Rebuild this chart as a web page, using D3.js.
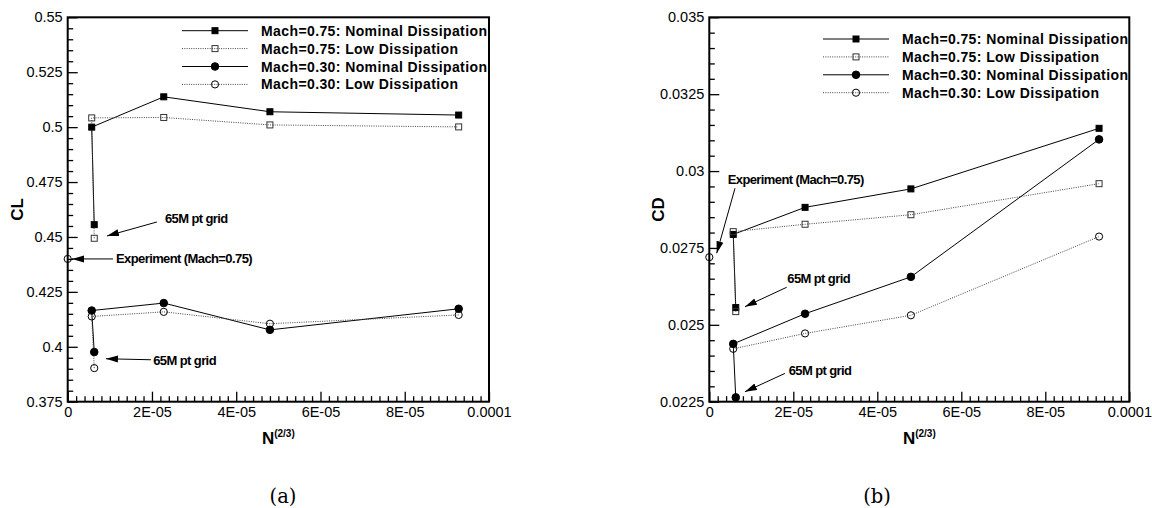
<!DOCTYPE html>
<html>
<head>
<meta charset="utf-8">
<script src="https://cdn.jsdelivr.net/npm/d3@7"></script>
<style>
  body { margin: 0; background: #fff; }
  svg { display: block; }
  text { font-family: "Liberation Sans", Arial, Helvetica, sans-serif; fill: #000; }
  .tick text { font-size: 14.5px; }
  .legend text { font-size: 14px; font-weight: bold; letter-spacing: 0.4px; }
  .ann { font-size: 13px; font-weight: bold; letter-spacing: -0.6px; }
  .title { font-size: 17px; font-weight: bold; }
  .caption { font-family: "DejaVu Serif", "Liberation Serif", serif; font-size: 19.5px; }
</style>
</head>
<body>
<svg width="1152" height="508"></svg>
<script>
// grid sizes N^(2/3); first entry is the 65M point grid
const gridX = [6.3e-6, 5.7e-6, 2.28e-5, 4.8e-5, 9.28e-5];

const seriesNames = [
  "Mach=0.75: Nominal Dissipation",
  "Mach=0.75: Low Dissipation",
  "Mach=0.30: Nominal Dissipation",
  "Mach=0.30: Low Dissipation"
];

// lift coefficient
const clM75Nominal = [0.4556, 0.5, 0.5138, 0.507, 0.5055];
const clM75Low     = [0.4494, 0.5042, 0.5044, 0.501, 0.5001];
const clM30Nominal = [0.3976, 0.4165, 0.4199, 0.4077, 0.4173];
const clM30Low     = [0.3903, 0.4138, 0.4159, 0.4105, 0.4145];
const clExperiment = 0.44;

// drag coefficient
const cdM75Nominal = [0.02556, 0.02794, 0.02882, 0.02942, 0.03139];
const cdM75Low     = [0.02543, 0.02803, 0.02827, 0.02858, 0.02959];
const cdM30Nominal = [0.02264, 0.02438, 0.02536, 0.02656, 0.03103];
const cdM30Low     = [null, 0.02422, 0.02472, 0.02531, 0.02787];
const cdExperiment = 0.0272;

const xTicks = [0, 2e-5, 4e-5, 6e-5, 8e-5, 1e-4];
const xTickLabels = ["0", "2E-05", "4E-05", "6E-05", "8E-05", "0.0001"];
const clTicks = [0.375, 0.4, 0.425, 0.45, 0.475, 0.5, 0.525, 0.55];
const clTickLabels = ["0.375", "0.4", "0.425", "0.45", "0.475", "0.5", "0.525", "0.55"];
const cdTicks = [0.0225, 0.025, 0.0275, 0.03, 0.0325, 0.035];
const cdTickLabels = ["0.0225", "0.025", "0.0275", "0.03", "0.0325", "0.035"];

// marker style per series: filled square, open square, filled circle, open circle
const styles = [
  { shape: "square", filled: true,  dashed: false },
  { shape: "square", filled: false, dashed: true },
  { shape: "circle", filled: true,  dashed: false },
  { shape: "circle", filled: false, dashed: true }
];

const svg = d3.select("svg");

svg.append("defs").append("marker")
  .attr("id", "arrow")
  .attr("viewBox", "0 -4 12 8")
  .attr("refX", 12)
  .attr("refY", 0)
  .attr("markerWidth", 12)
  .attr("markerHeight", 8)
  .attr("markerUnits", "userSpaceOnUse")
  .attr("orient", "auto")
  .append("path")
  .attr("d", "M0,-3.5L12,0L0,3.5Z")
  .attr("fill", "#000");

function drawMarker(g, style, px, py) {
  if (style.shape == "square") {
    let s = 6;
    g.append("rect")
      .attr("x", px - s / 2).attr("y", py - s / 2)
      .attr("width", s).attr("height", s)
      .attr("fill", style.filled ? "#000" : "none")
      .attr("stroke", style.filled ? "#000" : "#333")
      .attr("stroke-width", 1);
  } else {
    g.append("circle")
      .attr("cx", px).attr("cy", py)
      .attr("r", style.filled ? 3.8 : 3.6)
      .attr("fill", style.filled ? "#000" : "none")
      .attr("stroke", "#000")
      .attr("stroke-width", 1);
  }
}

function drawPanel(p) {
  const x = d3.scaleLinear().domain([0, 1e-4]).range([p.left, p.right]);
  const y = d3.scaleLinear().domain(p.yDomain).range([p.bottom, p.top]);
  const g = svg.append("g");

  // minor ticks
  const xMinor = d3.range(0, 51).map(i => i * 2e-6).filter((v, i) => i % 10 != 0);
  const yStep = (p.yDomain[1] - p.yDomain[0]) / (p.yTicks.length - 1) / 5;
  const yMinor = d3.range(0, (p.yTicks.length - 1) * 5 + 1)
    .filter(i => i % 5 != 0).map(i => p.yDomain[0] + i * yStep);

  g.append("g")
    .attr("transform", "translate(0," + p.bottom + ")")
    .call(d3.axisBottom(x).tickValues(xMinor).tickSize(-5.5).tickFormat(""))
    .call(a => a.select(".domain").remove());
  g.append("g")
    .attr("transform", "translate(" + p.left + ",0)")
    .call(d3.axisLeft(y).tickValues(yMinor).tickSize(-5.5).tickFormat(""))
    .call(a => a.select(".domain").remove());

  // major ticks with labels
  g.append("g")
    .attr("transform", "translate(0," + p.bottom + ")")
    .call(d3.axisBottom(x).tickValues(xTicks).tickSize(-10).tickPadding(5)
      .tickFormat((d, i) => xTickLabels[i]))
    .call(a => a.select(".domain").remove());
  g.append("g")
    .attr("transform", "translate(" + p.left + ",0)")
    .call(d3.axisLeft(y).tickValues(p.yTicks).tickSize(-10).tickPadding(5)
      .tickFormat((d, i) => p.yTickLabels[i]))
    .call(a => a.select(".domain").remove());

  g.selectAll(".tick line").attr("stroke", "#000").attr("stroke-width", 1.3);
  g.selectAll(".tick text").attr("fill", "#000").attr("font-family", null).attr("font-size", null);

  // frame
  g.append("rect")
    .attr("x", p.left).attr("y", p.top)
    .attr("width", p.right - p.left).attr("height", p.bottom - p.top)
    .attr("fill", "none").attr("stroke", "#000").attr("stroke-width", 2);

  // series lines
  const line = d3.line()
    .defined(d => d[1] != null)
    .x(d => x(d[0]))
    .y(d => y(d[1]));

  p.series.forEach((vals, i) => {
    const pts = gridX.map((gx, j) => [gx, vals[j]]);
    g.append("path")
      .datum(pts)
      .attr("d", line)
      .attr("fill", "none")
      .attr("stroke", styles[i].dashed ? "#444" : "#000")
      .attr("stroke-width", 1)
      .attr("stroke-dasharray", styles[i].dashed ? "1,1.3" : null);
  });
  p.series.forEach((vals, i) => {
    gridX.forEach((gx, j) => {
      if (vals[j] != null) drawMarker(g, styles[i], x(gx), y(vals[j]));
    });
  });

  // experiment
  drawMarker(g, styles[3], x(0), y(p.experiment));

  // annotations
  p.annotations.forEach(a => {
    const tx = x(a.at[0]), ty = y(a.at[1]);
    g.append("line")
      .attr("x1", tx + a.tail[0]).attr("y1", ty + a.tail[1])
      .attr("x2", tx + a.tip[0]).attr("y2", ty + a.tip[1])
      .attr("stroke", "#000").attr("stroke-width", 1)
      .attr("marker-end", "url(#arrow)");
    g.append("text")
      .attr("class", "ann")
      .attr("x", tx + a.text[0]).attr("y", ty + a.text[1])
      .text(a.label);
  });

  // legend
  const lg = g.append("g").attr("class", "legend");
  seriesNames.forEach((name, i) => {
    const ly = p.legendY + i * 17.9;
    lg.append("line")
      .attr("x1", p.legendX).attr("x2", p.legendX + 66)
      .attr("y1", ly).attr("y2", ly)
      .attr("stroke", styles[i].dashed ? "#444" : "#000")
      .attr("stroke-dasharray", styles[i].dashed ? "1,1.3" : null);
    drawMarker(lg, styles[i], p.legendX + 33, ly);
    lg.append("text")
      .attr("x", p.legendX + 79).attr("y", ly + 5)
      .text(name);
  });

  // axis titles
  g.append("text")
    .attr("class", "title")
    .attr("transform", "translate(" + p.yTitleX + "," + ((p.top + p.bottom) / 2) + ") rotate(-90)")
    .attr("text-anchor", "middle")
    .attr("dy", "0.35em")
    .text(p.yTitle);

  const xt = g.append("text")
    .attr("class", "title")
    .attr("x", (p.left + p.right) / 2)
    .attr("y", 444)
    .attr("text-anchor", "middle");
  xt.append("tspan").text("N");
  xt.append("tspan").attr("font-size", "10px").attr("dy", "-7").text("(2/3)");

  svg.append("text")
    .attr("class", "caption")
    .attr("x", p.captionX).attr("y", 503)
    .attr("text-anchor", "middle")
    .text(p.caption);
}

drawPanel({
  left: 67.7, right: 489, top: 17.3, bottom: 401.7,
  yDomain: [0.375, 0.55], yTicks: clTicks, yTickLabels: clTickLabels,
  series: [clM75Nominal, clM75Low, clM30Nominal, clM30Low],
  experiment: clExperiment,
  legendX: 182, legendY: 30.7,
  yTitle: "CL", yTitleX: 17, caption: "(a)", captionX: 283,
  annotations: [
    { label: "65M pt grid", at: [gridX[0], clM75Low[0]], tip: [12.7, -2.3], tail: [62.7, -16.3], text: [70.7, -15] },
    { label: "Experiment (Mach=0.75)", at: [0, clExperiment], tip: [4.3, 0], tail: [45.3, 0], text: [48.3, 3.7] },
    { label: "65M pt grid", at: [gridX[0], clM30Nominal[0]], tip: [11.7, 6.7], tail: [56.7, 7.7], text: [59, 12.7] }
  ]
});

drawPanel({
  left: 709.3, right: 1129.3, top: 17.3, bottom: 401.7,
  yDomain: [0.0225, 0.035], yTicks: cdTicks, yTickLabels: cdTickLabels,
  series: [cdM75Nominal, cdM75Low, cdM30Nominal, cdM30Low],
  experiment: cdExperiment,
  legendX: 823, legendY: 39,
  yTitle: "CD", yTitleX: 658, caption: "(b)", captionX: 877,
  annotations: [
    { label: "Experiment (Mach=0.75)", at: [0, cdExperiment], tip: [7.4, -3.9], tail: [25.7, -68.9], text: [18.4, -72.9] },
    { label: "65M pt grid", at: [gridX[0], cdM75Low[0]], tip: [9.2, -4.9], tail: [50.9, -24.3], text: [51.5, -28.3] },
    { label: "65M pt grid", at: [gridX[0], cdM30Nominal[0]], tip: [9.2, -5.6], tail: [49.2, -24], text: [52.9, -22.3] }
  ]
});
</script>
</body>
</html>
